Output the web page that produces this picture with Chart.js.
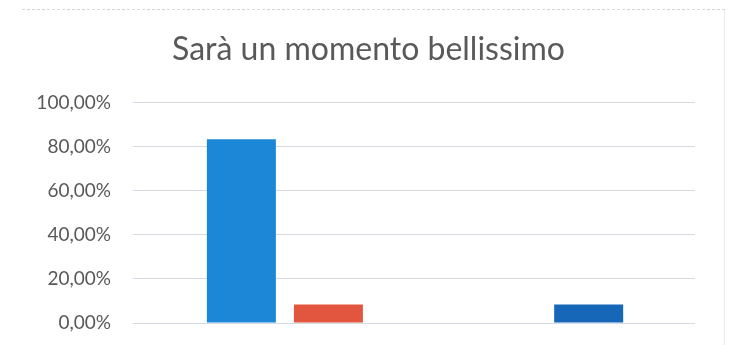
<!DOCTYPE html>
<html>
<head>
<meta charset="utf-8">
<script src="https://cdn.jsdelivr.net/npm/chart.js@4"></script>
<style>
    html, body { margin: 0; padding: 0; background: #fff; }
    #wrap { position: relative; width: 737px; height: 345px; overflow: hidden; }
    #bordo { position: absolute; left: 22px; top: 9px; width: 702px; height: 340px;
             border-top: 1px dashed #d4d8de; border-right: 1px solid #e6eaf0; }
    canvas { position: absolute; left: 0; top: 0; }
</style>
</head>
<body>
<div id="wrap">
    <div id="bordo"></div>
    <canvas id="myBarChart" width="737" height="345"></canvas>
</div>
<script>
// dati
const titolo = 'Sarà un momento bellissimo';
const gruppi = ['Gruppo 1', 'Gruppo 2'];
const serie_nomi = ['Serie 1', 'Serie 2', 'Serie 3'];
const serie_1 = [0.8333, null];
const serie_2 = [0.0833, null];
const serie_3 = [null, 0.0833];
const tick_y = [0, 0.2, 0.4, 0.6, 0.8, 1.0];
const colori = ['#1b87d6', '#e2553f', '#1767b8'];

window.onload = () => {
    bar_graph();
}

function to_points(values) {
    return values.map((v, i) => ({ x: i, y: v }));
}

function bar_graph() {
    const ctx = document.getElementById('myBarChart').getContext('2d');
    const all_series = [serie_1, serie_2, serie_3];

    new Chart(ctx, {
        type: 'bar',
        data: {
            datasets: all_series.map((s, i) => ({
                label: serie_nomi[i],
                data: to_points(s),
                backgroundColor: colori[i],
                borderWidth: 0
            }))
        },
        options: {
            responsive: false,
            animation: false,
            skipNull: true,
            categoryPercentage: 0.573,
            barPercentage: 0.793,
            maxBarThickness: 69,
            layout: {
                padding: { left: 0, right: 0, top: 0, bottom: 22 }
            },
            plugins: {
                legend: { display: false },
                tooltip: { enabled: false },
                title: {
                    display: true,
                    text: titolo,
                    color: '#595959',
                    font: { family: 'Lato', size: 32, weight: 'normal' },
                    padding: { top: 30, bottom: 34 }
                }
            },
            scales: {
                x: {
                    type: 'linear',
                    min: -0.5,
                    max: 1.35,
                    offset: false,
                    display: false,
                    grid: { display: false },
                    afterBuildTicks: (s) => {
                        s.ticks = gruppi.map((g, i) => ({ value: i }));
                    }
                },
                y: {
                    min: 0,
                    max: 1,
                    afterBuildTicks: (s) => {
                        s.ticks = tick_y.map(v => ({ value: v }));
                    },
                    afterFit: (s) => {
                        s.width = 133;
                    },
                    border: { display: false },
                    grid: {
                        color: '#d5dae2',
                        tickColor: 'rgba(0,0,0,0)',
                        tickLength: 19
                    },
                    ticks: {
                        padding: 3,
                        color: '#595959',
                        font: { family: 'Lato', size: 19 },
                        callback: (v) => (v * 100).toFixed(2).replace('.', ',') + '%'
                    }
                },
                // asse vuoto a destra, solo per lasciare il margine
                destra: {
                    type: 'linear',
                    position: 'right',
                    min: 0,
                    max: 1,
                    border: { display: false },
                    grid: { display: false },
                    ticks: { display: false },
                    afterFit: (s) => {
                        s.width = 42;
                    }
                }
            }
        }
    });
}
</script>
</body>
</html>
